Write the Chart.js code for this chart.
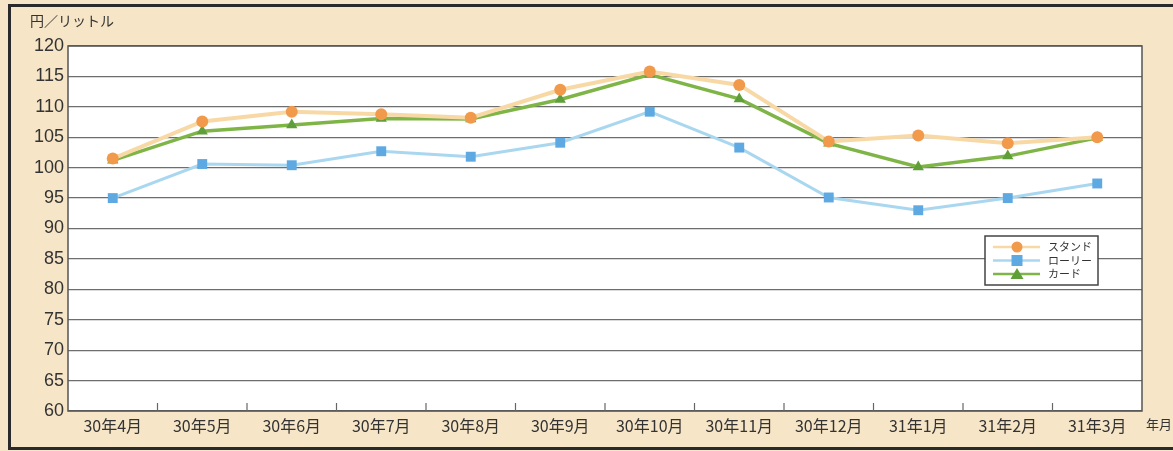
<!DOCTYPE html>
<html><head><meta charset="utf-8">
<script src="https://cdn.jsdelivr.net/npm/chart.js@4"></script>
<style>html,body{margin:0;padding:0;background:#f6e5c6;}#wrap{width:1173px;height:451px;}</style>
</head><body><div id="wrap"><canvas id="c" width="1173" height="451"></canvas></div>
<script>
const categories = ["30年4月","30年5月","30年6月","30年7月","30年8月","30年9月","30年10月","30年11月","30年12月","31年1月","31年2月","31年3月"];
const stand = [101.5,107.6,109.2,108.8,108.2,112.8,115.8,113.6,104.3,105.3,104.0,105.0];
const lorry = [95.0,100.6,100.4,102.7,101.8,104.1,109.2,103.3,95.1,93.0,95.0,97.4];
const card  = [101.2,106.0,107.0,108.1,108.0,111.2,115.3,111.3,104.0,100.1,101.9,104.9];
const seriesNames = ["スタンド","ローリー","カード"];
const yTicks = [60,65,70,75,80,85,90,95,100,105,110,115,120];
const yTitle = "円／リットル";
const xTitle = "年月";

const JP = '"Noto Sans CJK JP","Noto Sans",sans-serif';
const LAT = '"Liberation Sans",Arial,sans-serif';

const bgPlugin = {
  id:'bg',
  beforeDraw(chart){
    const {ctx, chartArea:a, width, height} = chart;
    ctx.save();
    ctx.fillStyle = '#f6e5c6';
    ctx.fillRect(0,0,width,height);
    ctx.strokeStyle = '#2a2a2a';
    ctx.lineWidth = 3;
    ctx.strokeRect(9.5,5.5,width+10,height-8);
    ctx.fillStyle = '#ffffff';
    ctx.fillRect(a.left,a.top,a.right-a.left,a.bottom-a.top);
    ctx.restore();
  },
  afterDatasetsDraw(chart){
    const {ctx, chartArea:a} = chart;
    const xs = chart.scales.x;
    ctx.save();
    ctx.strokeStyle = '#555';
    ctx.lineWidth = 1.5;
    ctx.strokeRect(a.left,a.top,a.right-a.left,a.bottom-a.top);
    ctx.strokeStyle = '#666';
    ctx.lineWidth = 1.2;
    for (let i=0;i<categories.length-1;i++){
      const xm = (xs.getPixelForValue(i)+xs.getPixelForValue(i+1))/2;
      ctx.beginPath(); ctx.moveTo(xm,a.bottom); ctx.lineTo(xm,a.bottom-8); ctx.stroke();
    }
    ctx.fillStyle = '#333';
    ctx.font = '14px '+JP;
    ctx.textBaseline = 'middle';
    ctx.textAlign = 'left';
    ctx.fillText(yTitle, 30, 21);
    ctx.font = '13px '+JP;
    ctx.fillText(xTitle, 1146, 424);
    const lx=985, ly=236, lw=113, lh=49;
    ctx.fillStyle='#fff';
    ctx.fillRect(lx,ly,lw,lh);
    ctx.strokeStyle='#444'; ctx.lineWidth=1.5;
    ctx.strokeRect(lx,ly,lw,lh);
    chart.data.datasets.forEach((ds,i)=>{
      const y = ly+11+i*13.5;
      ctx.strokeStyle = ds.borderColor; ctx.lineWidth=2.5;
      ctx.beginPath(); ctx.moveTo(lx+8,y); ctx.lineTo(lx+55,y); ctx.stroke();
      const cx = lx+32;
      ctx.fillStyle = ds.pointBackgroundColor;
      ctx.beginPath();
      if (ds.pointStyle==='circle'){ ctx.arc(cx,y,5.5,0,Math.PI*2); }
      else if (ds.pointStyle==='rect'){ ctx.rect(cx-5.5,y-5.5,11,11); }
      else { ctx.moveTo(cx,y-6); ctx.lineTo(cx+6.5,y+5); ctx.lineTo(cx-6.5,y+5); ctx.closePath(); }
      ctx.fill();
      ctx.fillStyle='#333'; ctx.font='11px '+JP; ctx.textAlign='left';
      ctx.fillText(ds.label, lx+63, y);
    });
    ctx.restore();
  }
};

new Chart(document.getElementById('c'), {
  type:'line',
  data:{
    labels: categories,
    datasets:[
      {label:seriesNames[0], data:stand, borderColor:'#f8d9a6', pointBackgroundColor:'#f29a4c', pointBorderWidth:0, pointStyle:'circle', pointRadius:6, borderWidth:4, tension:0, order:1},
      {label:seriesNames[1], data:lorry, borderColor:'#a9d7ef', pointBackgroundColor:'#5ea9e1', pointBorderWidth:0, pointStyle:'rect', pointRadius:7, borderWidth:3, tension:0, order:3},
      {label:seriesNames[2], data:card, borderColor:'#7fb547', pointBackgroundColor:'#5f9e38', pointBorderWidth:0, pointStyle:'triangle', pointRadius:6.5, borderWidth:3.5, tension:0, order:2}
    ]
  },
  options:{
    responsive:false, animation:false, devicePixelRatio:1,
    layout:{padding:{top:46,right:31,left:0,bottom:0}},
    plugins:{legend:{display:false}, tooltip:{enabled:false}},
    scales:{
      x:{
        offset:true,
        grid:{display:false, drawTicks:false},
        border:{display:false},
        ticks:{color:'#333', font:{family:JP,size:16}, maxRotation:0, autoSkip:false, padding:5},
        afterFit(s){ s.height = 40; }
      },
      y:{
        min:60, max:120,
        afterBuildTicks(s){ s.ticks = yTicks.map(v=>({value:v})); },
        grid:{color:'#6e6e6e', lineWidth:1.3, drawTicks:false},
        border:{display:false},
        ticks:{color:'#333', font:{family:LAT,size:18}, padding:4},
        afterFit(s){ s.width = 68; }
      }
    }
  },
  plugins:[bgPlugin]
});
</script></body></html>
